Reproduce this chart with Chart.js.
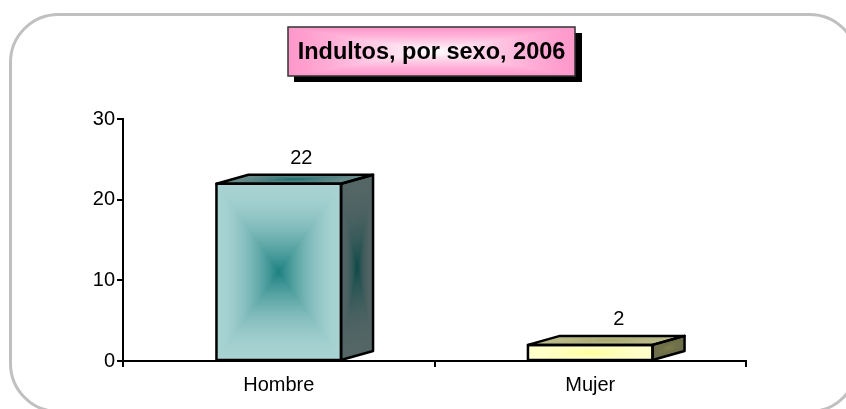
<!DOCTYPE html>
<html>
<head>
<meta charset="utf-8">
<title>Indultos, por sexo, 2006</title>
<script src="https://cdn.jsdelivr.net/npm/chart.js@4"></script>
<style>
    html, body { margin: 0; padding: 0; background: #ffffff; overflow: hidden; }
    #wrap { position: relative; width: 846px; height: 409px; }
</style>
</head>
<body>
<div id="wrap"><canvas id="chart"></canvas></div>
<script>
// Data
const categories = ['Hombre', 'Mujer'];
const indultos = [22, 2];
const yTicks = [0, 10, 20, 30];
const chartTitle = 'Indultos, por sexo, 2006';

// Bar colours: [centre, edge] of each face
const frontColors = [['#1c8080', '#a9d3d3'], ['#ffff99', '#ffffcc']];
const sideColors = [['#0f4a4a', '#556666'], ['#80804c', '#6e6e4c']];
const topColors = [['#1f7070', '#6c8c8c'], ['#a8a870', '#bcbc8c']];

const FONT = '"Liberation Sans", Arial, sans-serif';
const DEPTH_X = 32;
const DEPTH_Y = 9;
const LABEL_SHIFT = [22.5, 28.5];

// Fill a parallelogram with a "rectangular" gradient, centre to edge
function fillFace(ctx, x, y, ux, uy, vx, vy, colors, power) {
    const inner = parseHex(colors[0]);
    const outer = parseHex(colors[1]);
    const steps = 80;
    ctx.save();
    ctx.transform(ux, uy, vx, vy, x, y);
    for (let i = 0; i < steps; i++) {
        const t = i / steps;
        const k = Math.pow(t, power);
        const c = outer.map((o, n) => Math.round(o + (inner[n] - o) * k));
        ctx.fillStyle = `rgb(${c[0]},${c[1]},${c[2]})`;
        ctx.fillRect(t / 2, t / 2, 1 - t, 1 - t);
    }
    ctx.restore();
}

function parseHex(hex) {
    return [1, 3, 5].map(i => parseInt(hex.substr(i, 2), 16));
}

function outline(ctx, points) {
    ctx.beginPath();
    points.forEach((p, i) => (i ? ctx.lineTo(p[0], p[1]) : ctx.moveTo(p[0], p[1])));
    ctx.closePath();
    ctx.stroke();
}

// Rounded grey frame and the title box behind the chart
const backdrop = {
    id: 'backdrop',
    afterLayout(chart) {
        chart.titleBlock.left = 288;
        chart.titleBlock.right = 575;
    },
    beforeDraw(chart) {
        const ctx = chart.ctx;
        ctx.save();
        ctx.strokeStyle = '#c0c0c0';
        ctx.lineWidth = 3;
        ctx.beginPath();
        ctx.roundRect(10.5, 14.5, 847, 397, 48);
        ctx.stroke();

        ctx.fillStyle = '#000000';
        ctx.fillRect(294, 33, 288, 49);
        fillFace(ctx, 288, 27, 287, 0, 0, 49, ['#ffffff', '#ff99cc'], 1.3);
        ctx.strokeStyle = '#333333';
        ctx.lineWidth = 1.5;
        ctx.strokeRect(288, 27, 287, 49);
        ctx.restore();
    }
};

// 3D faces and value labels, placed from the bar elements
const bars3d = {
    id: 'bars3d',
    afterDatasetsDraw(chart) {
        const ctx = chart.ctx;
        const meta = chart.getDatasetMeta(0);
        ctx.save();
        meta.data.forEach((bar, i) => {
            const p = bar.getProps(['x', 'y', 'base', 'width'], true);
            const left = p.x - p.width / 2;
            const right = p.x + p.width / 2;
            const h = p.base - p.y;

            fillFace(ctx, left, p.y, p.width, 0, 0, h, frontColors[i], 1.8);
            fillFace(ctx, right, p.y, DEPTH_X, -DEPTH_Y, 0, h, sideColors[i], 2.2);
            fillFace(ctx, left, p.y, p.width, 0, DEPTH_X, -DEPTH_Y, topColors[i], 1.6);

            ctx.strokeStyle = '#000000';
            ctx.lineWidth = 2.5;
            ctx.lineJoin = 'round';
            outline(ctx, [[left, p.y], [right, p.y], [right, p.base], [left, p.base]]);
            outline(ctx, [[right, p.y], [right + DEPTH_X, p.y - DEPTH_Y], [right + DEPTH_X, p.base - DEPTH_Y], [right, p.base]]);
            outline(ctx, [[left, p.y], [left + DEPTH_X, p.y - DEPTH_Y], [right + DEPTH_X, p.y - DEPTH_Y], [right, p.y]]);

            ctx.fillStyle = '#000000';
            ctx.font = '20px ' + FONT;
            ctx.textAlign = 'center';
            ctx.textBaseline = 'middle';
            ctx.fillText(String(indultos[i]), p.x + LABEL_SHIFT[i], p.y - 25);
        });
        ctx.restore();
    }
};

new Chart(document.getElementById('chart'), {
    type: 'bar',
    data: {
        labels: categories,
        datasets: [{
            data: indultos,
            backgroundColor: frontColors.map(c => c[1]),
            borderWidth: 0,
            categoryPercentage: 1,
            barPercentage: 0.4
        }]
    },
    options: {
        responsive: true,
        maintainAspectRatio: false,
        animation: false,
        layout: { padding: { top: 10, left: 0, right: 100, bottom: 0 } },
        plugins: {
            legend: { display: false },
            tooltip: { enabled: false },
            title: {
                display: true,
                text: chartTitle,
                color: '#000000',
                font: { family: FONT, size: 23.5, weight: 'bold', lineHeight: 1.2 },
                padding: { top: 28, bottom: 53 }
            }
        },
        scales: {
            x: {
                border: { color: '#000000', width: 2 },
                grid: { display: true, drawOnChartArea: false, color: '#000000', lineWidth: 2, tickLength: 6, offset: true },
                ticks: { color: '#000000', font: { family: FONT, size: 20 }, padding: 6, maxRotation: 0 },
                afterFit(scale) { scale.height = 48; }
            },
            y: {
                min: 0,
                max: 30,
                afterBuildTicks(scale) { scale.ticks = yTicks.map(v => ({ value: v })); },
                border: { color: '#000000', width: 2 },
                grid: { display: true, drawOnChartArea: false, color: '#000000', lineWidth: 2, tickLength: 6 },
                ticks: { color: '#000000', font: { family: FONT, size: 20 }, padding: 2 },
                afterFit(scale) { scale.width = 123; }
            }
        }
    },
    plugins: [backdrop, bars3d]
});
</script>
</body>
</html>
